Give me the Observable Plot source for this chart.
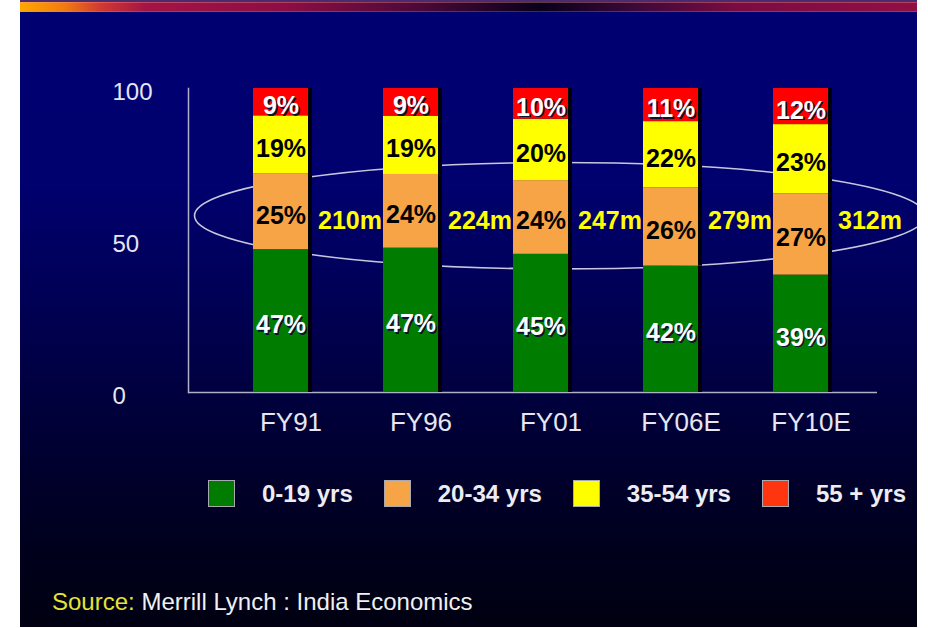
<!DOCTYPE html>
<html>
<head>
<meta charset="utf-8">
<script src="https://cdn.jsdelivr.net/npm/d3@7"></script>
<script src="https://cdn.jsdelivr.net/npm/@observablehq/plot@0.6"></script>
<style>
  html, body { margin: 0; padding: 0; background: #ffffff; }
  body { width: 928px; height: 628px; position: relative; overflow: hidden; font-family: 'Liberation Sans', Arial, sans-serif; }
  #slide {
    position: absolute; left: 20px; top: 0; width: 897px; height: 627px; overflow: hidden;
    background: linear-gradient(to bottom, #000072 0%, #00006e 30%, #000052 50%, #000034 70%, #00001c 88%, #000012 100%);
  }
  #topline { position: absolute; left: 0; top: 0; width: 100%; height: 2px; background: #4a2c6c; }
  #topbar {
    position: absolute; left: 0; top: 2px; width: 100%; height: 10px;
    background: linear-gradient(to right, #ffa800 0%, #f07a10 5%, #d03a30 9%, #a41446 14%, #8a0e44 30%, #4a0838 45%, #08001a 58%, #3a0838 68%, #7a0c42 80%, #900f45 100%);
    box-shadow: inset 0 1px 0 rgba(255,160,160,0.35), inset 0 -1px 0 rgba(255,120,140,0.3);
  }
  #chart { position: absolute; left: 0; top: 0; }
  #legend { position: absolute; left: 188px; top: 480px; display: flex; align-items: center; white-space: nowrap; }
  .item { display: flex; align-items: center; margin-right: 31px; }
  .sw { width: 25px; height: 25px; border: 1px solid #a8a8b0; margin-right: 27px; }
  .lt { color: #ececf2; font-weight: bold; font-size: 24px; line-height: 27px; }
  #source { position: absolute; left: 32px; top: 590px; font-size: 24px; line-height: 24px; color: #f0f0f0; white-space: nowrap; }
  #source .s { color: #e4e434; }
</style>
</head>
<body>
<div id="slide">
  <div id="topline"></div>
  <div id="topbar"></div>
  <div id="chart"></div>
  <div id="legend"></div>
  <div id="source"><span class="s">Source:</span> Merrill Lynch : India Economics</div>
</div>
<script>
// ---- data ----
const years = ["FY91", "FY96", "FY01", "FY06E", "FY10E"];
const groups = ["0-19 yrs", "20-34 yrs", "35-54 yrs", "55 + yrs"];
const share0to19 = [47, 47, 45, 42, 39];
const share20to34 = [25, 24, 24, 26, 27];
const share35to54 = [19, 19, 20, 22, 23];
const share55plus = [9, 9, 10, 11, 12];
const populationM = [210, 224, 247, 279, 312];
const yTicks = [0, 50, 100];

// ---- styles ----
const palette = ["#007c00", "#f6a445", "#ffff00", "#ff0000"];
const whiteLabelGroups = [groups[0], groups[3]];

const series = [share0to19, share20to34, share35to54, share55plus];
const rows = years.flatMap((year, i) => groups.map((group, j) => ({year, group, value: series[j][i]})));
const totals = years.map((year, i) => ({year, pop: populationM[i]}));

const stackOpts = (extra) => Plot.stackY({x: "year", y: "value", z: "group", offset: "normalize", ...extra});
const lblFont = {fontSize: 25, fontWeight: "bold"};

const plot = Plot.plot({
  width: 897,
  height: 450,
  marginTop: 88,
  marginBottom: 58,
  marginLeft: 168,
  marginRight: 40,
  style: {background: "transparent", color: "#e6e6f2", fontFamily: "'Liberation Sans', Arial, sans-serif", overflow: "visible"},
  x: {domain: years, range: [168, 872], paddingInner: 0.577, paddingOuter: 0.496, label: null},
  y: {domain: [0, 1], label: null},
  color: {domain: groups, range: palette},
  marks: [
    Plot.frame({anchor: "left", stroke: "#b0b0c8", strokeWidth: 1.5}),
    Plot.ruleY([0], {stroke: "#b0b0c8", strokeWidth: 1.5}),
    Plot.barY(rows, stackOpts({fill: "#000008", dx: 4})),
    Plot.barY(rows, stackOpts({fill: "group"})),
    // white labels (with dark shadow)
    Plot.text(rows, stackOpts({text: d => whiteLabelGroups.includes(d.group) ? d.value + "%" : "", fill: "#101030", dx: 1.5, dy: 5.5, ...lblFont})),
    Plot.text(rows, stackOpts({text: d => whiteLabelGroups.includes(d.group) ? d.value + "%" : "", fill: "#ffffff", dy: 4, ...lblFont})),
    // black labels
    Plot.text(rows, stackOpts({text: d => whiteLabelGroups.includes(d.group) ? "" : d.value + "%", fill: "#000000", dy: 4, ...lblFont})),
    // population totals
    Plot.text(totals, {x: "year", text: d => d.pop + "m", frameAnchor: "middle", textAnchor: "start", dx: 37, dy: -20, fill: "#ffff00", ...lblFont}),
    Plot.axisX({tickSize: 0, tickPadding: 20, fontSize: 26, dx: 10}),
    Plot.axisY({ticks: yTicks.map(v => v / 100), tickFormat: d => String(Math.round(d * 100)), tickSize: 0, tickPadding: 0, textAnchor: "start", dx: -76, dy: 4, fontSize: 24})
  ]
});
document.getElementById("chart").appendChild(plot);

// ---- annotation ellipse around the 20-34 band, behind the bars ----
const xs = plot.scale("x"), ys = plot.scale("y");
const bw = xs.bandwidth, step = xs.step;
const leftTip = xs.apply(years[0]) - 0.45 * step;
const rightTip = xs.apply(years[years.length - 1]) + bw + 0.75 * step;
const ns = "http://www.w3.org/2000/svg";
const el = document.createElementNS(ns, "ellipse");
el.setAttribute("cx", (leftTip + rightTip) / 2);
el.setAttribute("cy", ys.apply(0.58));
el.setAttribute("rx", (rightTip - leftTip) / 2);
el.setAttribute("ry", ys.apply(0) - ys.apply(0.175));
el.setAttribute("fill", "none");
el.setAttribute("stroke", "#c8c8dc");
el.setAttribute("stroke-width", "1.6");
const firstBar = plot.querySelector('g[aria-label="bar"]');
plot.insertBefore(el, firstBar);

// ---- legend ----
const legend = document.getElementById("legend");
groups.forEach((g, i) => {
  const item = document.createElement("div");
  item.className = "item";
  const sw = document.createElement("div");
  sw.className = "sw";
  sw.style.background = i === 3 ? "#ff3510" : palette[i];
  const t = document.createElement("span");
  t.className = "lt";
  t.textContent = g;
  item.appendChild(sw); item.appendChild(t);
  legend.appendChild(item);
});
</script>
</body>
</html>
